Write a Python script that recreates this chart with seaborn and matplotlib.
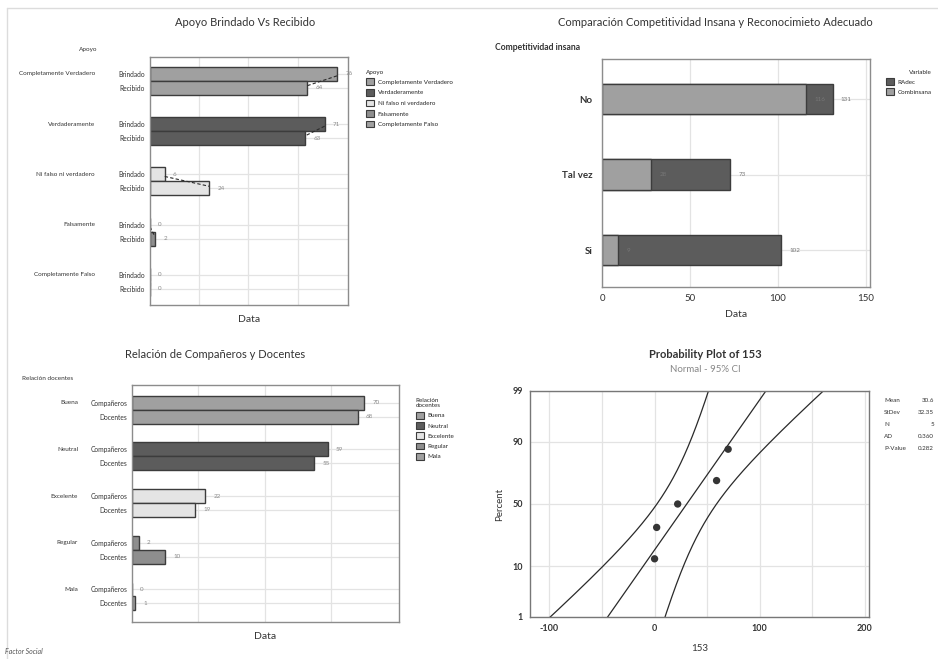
import numpy as np
import pandas as pd
import seaborn as sns
import matplotlib
matplotlib.use('Agg')
import matplotlib.pyplot as plt
from matplotlib.patches import Patch
from statistics import NormalDist

# ---- data ----
apoyo_grupos = ['Completamente Verdadero', 'Verdaderamente', 'Ni falso ni verdadero',
                'Falsamente', 'Completamente Falso']
apoyo_brindado = [76, 71, 6, 0, 0]
apoyo_recibido = [64, 63, 24, 2, 0]

comp_categorias = ['No', 'Tal vez', 'Si']
comp_radec = [131, 73, 102]
comp_combinsana = [116, 28, 9]

rel_grupos = ['Buena', 'Neutral', 'Excelente', 'Regular', 'Mala']
rel_companeros = [70, 59, 22, 2, 0]
rel_docentes = [68, 55, 19, 10, 1]

prob_data = [0, 2, 22, 59, 70]
prob_ad = '0.360'
prob_pvalue = '0.282'

# greys used by the original
c_mid = '#a0a0a0'
c_dark = '#5c5c5c'
c_light = '#e4e4e4'
c_mid2 = '#8e8e8e'
edge = '#3c3c3c'
grid_c = '#e3e3e3'
lbl_c = '#8a8a8a'

apoyo_colores = dict(zip(apoyo_grupos, [c_mid, c_dark, c_light, c_mid2, c_mid]))
rel_colores = dict(zip(rel_grupos, [c_mid, c_dark, c_light, c_mid2, c_mid]))

sns.set_style('white')
plt.rcParams['font.family'] = ['Lato', 'DejaVu Sans']
plt.rcParams['axes.unicode_minus'] = False

W, H = 938, 659
fig = plt.figure(figsize=(W / 100, H / 100), dpi=100)


def rect(l, t, r, b):
    return [l / W, 1 - b / H, (r - l) / W, (b - t) / H]


def fx(x):
    return x / W


def fy(y):
    return 1 - y / H


def style_spines(ax, color='#8c8c8c', lw=1.0):
    for s in ax.spines.values():
        s.set_visible(True)
        s.set_color(color)
        s.set_linewidth(lw)


# faint outer frame
fig.add_artist(plt.Line2D([fx(7), 1], [fy(8), fy(8)], color='#dcdcdc', lw=1))
fig.add_artist(plt.Line2D([fx(7), fx(7)], [fy(8), 0], color='#dcdcdc', lw=1))


def grouped_panel(ax, grupos, subs, vals_a, vals_b, colores, gap, ylim, grp_x, connect):
    rows = []
    for g, name in enumerate(grupos):
        rows.append({'grupo': name, 'sub': subs[0], 'valor': vals_a[g], 'pos': g * gap})
        rows.append({'grupo': name, 'sub': subs[1], 'valor': vals_b[g], 'pos': g * gap + 1})
    df = pd.DataFrame(rows)
    sns.barplot(data=df, x='valor', y='pos', hue='grupo', palette=colores, orient='y',
                native_scale=True, dodge=False, width=1.0, saturation=1,
                edgecolor=edge, linewidth=1.0, errorbar=None, legend=False, ax=ax)
    ax.set_axisbelow(True)
    ax.set_xlim(0, 80.5)
    ax.set_ylim(*ylim)
    ax.set_xticks([20, 40, 60])
    ax.set_xticklabels([])
    ax.tick_params(axis='x', length=0)
    ax.set_yticks(df['pos'])
    ax.set_yticklabels(df['sub'], fontsize=4.8, color='#333333')
    ax.tick_params(axis='y', length=2.5, width=0.6, color='#555555', pad=1)
    ax.grid(True, color=grid_c, lw=0.9)
    style_spines(ax)
    for _, r in df.iterrows():
        ax.annotate(str(r['valor']), (r['valor'], r['pos']), xytext=(6, 0),
                    textcoords='offset points', fontsize=4.5, color=lbl_c,
                    va='center', annotation_clip=False)
    for g, name in enumerate(grupos):
        ax.text(grp_x, g * gap, name, transform=ax.get_yaxis_transform(),
                ha='right', va='center', fontsize=4.6, color='#333333')
        if connect:
            ax.plot([vals_a[g], vals_b[g]], [g * gap + 0.15, g * gap + 0.85],
                    color='#2a2a2a', lw=0.8, ls=(0, (3, 2)))
    ax.set_xlabel('Data', fontsize=7.5, color='#333333', labelpad=4)
    ax.set_ylabel('')


# ---- panel 1: Apoyo Brindado Vs Recibido ----
ax1 = fig.add_axes(rect(150, 57, 348, 305))
grouped_panel(ax1, apoyo_grupos, ['Brindado', 'Recibido'], apoyo_brindado, apoyo_recibido,
              apoyo_colores, 3.6, (16.55, -1.2), -0.278, True)
fig.text(fx(245), fy(22), 'Apoyo Brindado Vs Recibido', ha='center', va='center',
         fontsize=8, color='#333333')
fig.text(fx(88), fy(50), 'Apoyo', ha='center', va='center', fontsize=4.6, color='#333333')
leg1 = fig.legend(handles=[Patch(facecolor=apoyo_colores[g], edgecolor=edge, lw=0.8)
                           for g in apoyo_grupos],
                  labels=apoyo_grupos, title='Apoyo', loc='upper left',
                  bbox_to_anchor=(fx(360), fy(64)), frameon=False, fontsize=4.5,
                  title_fontsize=4.5, handlelength=1.3, handleheight=1.3,
                  labelspacing=0.6, handletextpad=0.6, alignment='left')

# ---- panel 2: Competitividad insana ----
ax2 = fig.add_axes(rect(602, 59, 870, 287))
df2 = pd.DataFrame({'cat': comp_categorias, 'RAdec': comp_radec, 'Combinsana': comp_combinsana})
sns.barplot(data=df2, x='RAdec', y='cat', color=c_dark, saturation=1, width=0.41,
            edgecolor=edge, linewidth=1.0, errorbar=None, orient='y', ax=ax2)
sns.barplot(data=df2, x='Combinsana', y='cat', color=c_mid, saturation=1, width=0.41,
            edgecolor=edge, linewidth=1.0, errorbar=None, orient='y', ax=ax2)
ax2.set_axisbelow(True)
ax2.set_xlim(0, 152.3)
ax2.set_ylim(2.49, -0.53)
ax2.set_xticks([0, 50, 100, 150])
ax2.tick_params(axis='x', labelsize=7, length=3, width=0.7, color='#555555', pad=2,
                labelcolor='#333333')
ax2.tick_params(axis='y', labelsize=7, length=3, width=0.7, color='#555555', pad=4,
                labelcolor='#333333')
for t in ax2.get_yticklabels():
    t.set_fontweight('bold')
ax2.grid(True, color=grid_c, lw=0.9)
style_spines(ax2)
for i in range(len(comp_categorias)):
    for v in (comp_combinsana[i], comp_radec[i]):
        ax2.annotate(str(v), (v, i), xytext=(6, 0), textcoords='offset points',
                     fontsize=4.5, color='#777777', va='center', annotation_clip=False)
ax2.set_xlabel('Data', fontsize=7.5, color='#333333', labelpad=5)
ax2.set_ylabel('')
fig.text(fx(715), fy(22), 'Comparación Competitividad Insana y Reconocimieto Adecuado',
         ha='center', va='center', fontsize=8, color='#333333')
fig.text(fx(495), fy(48), 'Competitividad insana', ha='left', va='center',
         fontsize=6.2, fontweight='bold', color='#333333')
fig.legend(handles=[Patch(facecolor=c_dark, edgecolor=edge, lw=0.8),
                    Patch(facecolor=c_mid, edgecolor=edge, lw=0.8)],
           labels=['RAdec', 'Combinsana'], title='Variable', loc='upper left',
           bbox_to_anchor=(fx(880), fy(64)), frameon=False, fontsize=4.5,
           title_fontsize=4.5, handlelength=1.3, handleheight=1.3,
           labelspacing=0.55, handletextpad=0.6, alignment='right')

# ---- panel 3: Relación de Compañeros y Docentes ----
ax3 = fig.add_axes(rect(132, 385, 399, 622))
grouped_panel(ax3, rel_grupos, ['Compañeros', 'Docentes'], rel_companeros, rel_docentes,
              rel_colores, 3.35, (15.73, -1.26), -0.202, False)
fig.text(fx(215), fy(354), 'Relación de Compañeros y Docentes', ha='center', va='center',
         fontsize=8, color='#333333')
fig.text(fx(22), fy(378), 'Relación docentes', ha='left', va='center', fontsize=4.6,
         color='#333333')
fig.legend(handles=[Patch(facecolor=rel_colores[g], edgecolor=edge, lw=0.8) for g in rel_grupos],
           labels=rel_grupos, title='Relación\ndocentes', loc='upper left',
           bbox_to_anchor=(fx(410), fy(392)), frameon=False, fontsize=4.5,
           title_fontsize=4.5, handlelength=1.3, handleheight=1.3,
           labelspacing=0.55, handletextpad=0.6, alignment='left')
fig.text(fx(5), fy(652), 'Factor Social', ha='left', va='center', fontsize=5,
         style='italic', color='#555555')

# ---- panel 4: Probability Plot ----
nd = NormalDist()
ax4 = fig.add_axes(rect(530, 391, 869, 617))
x = np.sort(np.array(prob_data, dtype=float))
n = len(x)
ranks = [(i + 1 - 0.3) / (n + 0.4) for i in range(n)]
zpts = [nd.inv_cdf(p) for p in ranks]
mean = x.mean()
sd = x.std(ddof=1)
zz = np.linspace(-2.6, 2.6, 200)
fit = mean + sd * zz
half = 1.96 * sd * np.sqrt((1 + zz ** 2 / 2) / n)
ax4.plot(fit, zz, color='#2a2a2a', lw=0.9)
ax4.plot(fit - half, zz, color='#2a2a2a', lw=0.9)
ax4.plot(fit + half, zz, color='#2a2a2a', lw=0.9)
sns.scatterplot(x=x, y=zpts, color='#353535', s=28, edgecolor='none', ax=ax4, zorder=3)
pct_ticks = [1, 10, 50, 90, 99]
ax4.set_yticks([nd.inv_cdf(p / 100) for p in pct_ticks])
ax4.set_yticklabels([str(p) for p in pct_ticks])
ax4.set_ylim(nd.inv_cdf(0.01), nd.inv_cdf(0.99))
ax4.set_xlim(-118.5, 204)
ax4.set_xticks([-100, 0, 100, 200])
ax4.set_xticks([-50, 50, 150], minor=True)
ax4.tick_params(axis='both', which='major', labelsize=6.5, length=3, width=0.7,
                color='#555555', labelcolor='#333333', pad=2)
ax4.tick_params(axis='x', which='minor', length=0)
for t in ax4.get_yticklabels() + ax4.get_xticklabels():
    t.set_fontweight('bold')
ax4.grid(True, which='both', color=grid_c, lw=0.9)
ax4.set_axisbelow(True)
style_spines(ax4, color='#777777')
ax4.set_xlabel('153', fontsize=7, color='#333333', labelpad=8)
ax4.set_ylabel('Percent', fontsize=7, color='#333333', labelpad=6)
fig.text(fx(705), fy(354), 'Probability Plot of 153', ha='center', va='center',
         fontsize=8, fontweight='bold', color='#333333')
fig.text(fx(705), fy(369), 'Normal - 95% CI', ha='center', va='center',
         fontsize=7, color='#888888')
stat_names = ['Mean', 'StDev', 'N', 'AD', 'P-Value']
stat_vals = [f'{mean:.1f}', f'{sd:.2f}', str(n), prob_ad, prob_pvalue]
for k, (nm, vv) in enumerate(zip(stat_names, stat_vals)):
    yy = fy(401 + k * 11.8)
    fig.text(fx(884), yy, nm, ha='left', va='center', fontsize=4.5, color='#333333')
    fig.text(fx(934), yy, vv, ha='right', va='center', fontsize=4.5, color='#333333')

fig.savefig('out.png', dpi=100)
